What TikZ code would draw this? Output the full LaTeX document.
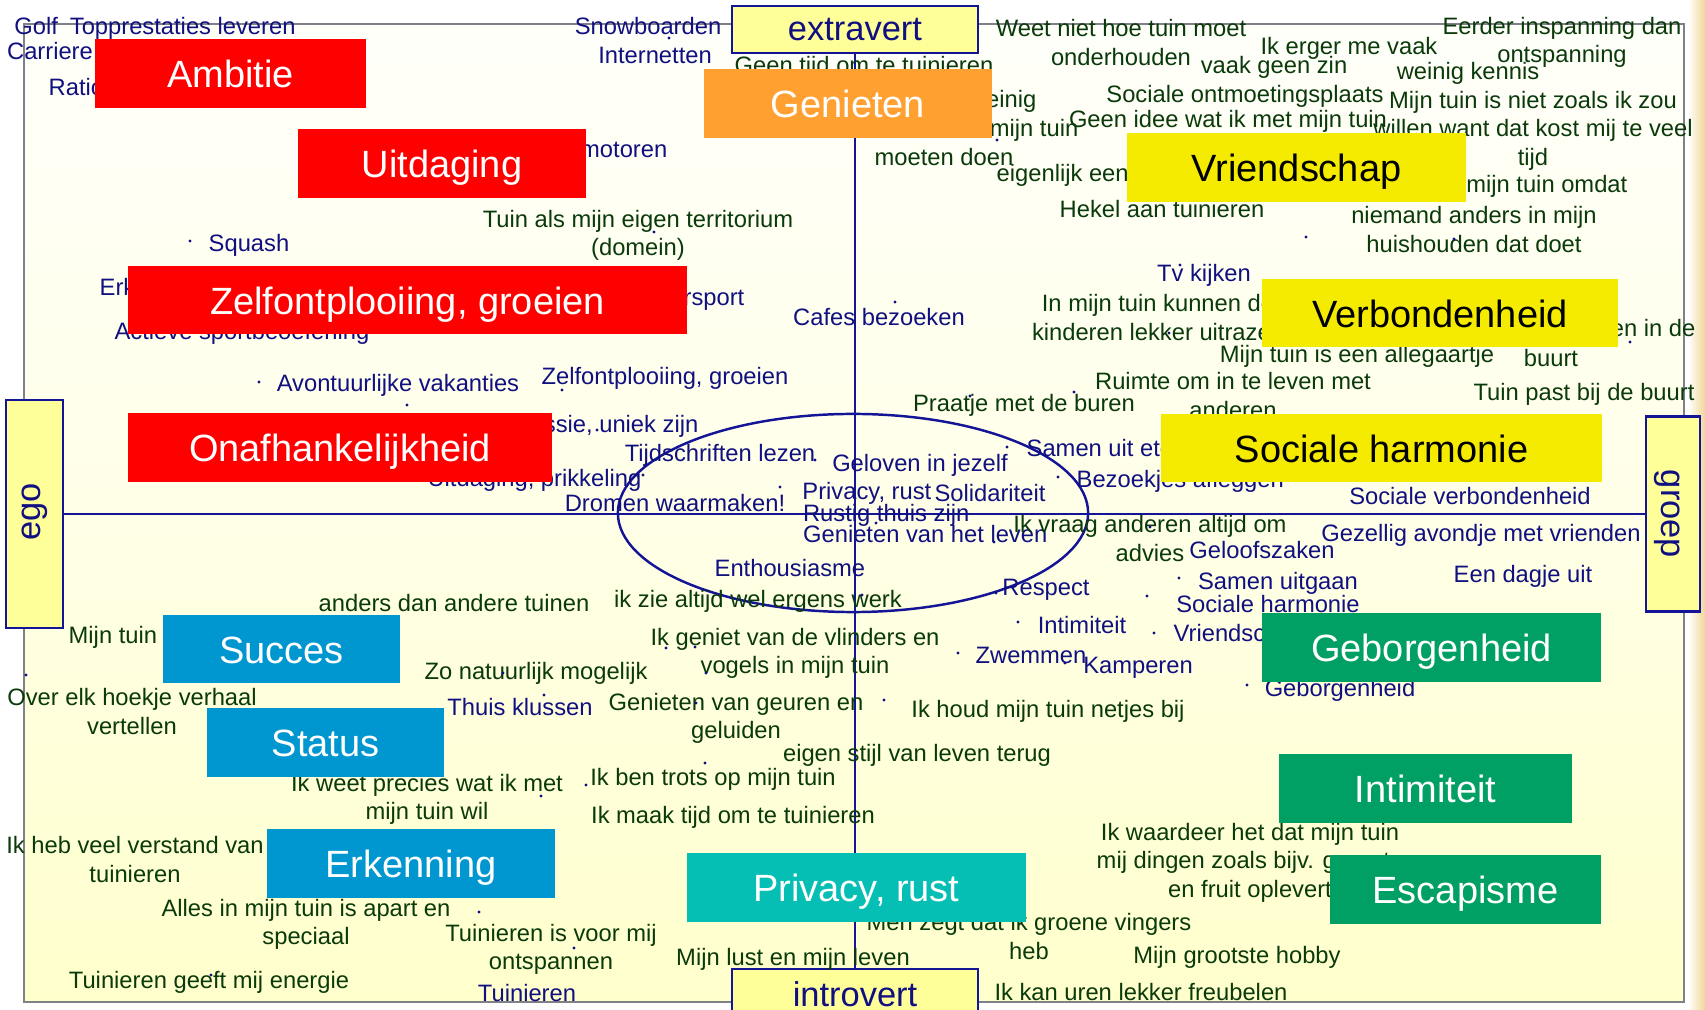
\documentclass[tikz,border=0pt]{standalone}
\usepackage{fontspec}
\setmainfont{Liberation Sans}
\definecolor{navytext}{RGB}{16,16,128}
\definecolor{navyline}{RGB}{20,20,150}
\definecolor{greentext}{RGB}{10,58,10}
\definecolor{redbox}{RGB}{255,0,0}
\definecolor{orangebox}{RGB}{255,160,48}
\definecolor{yellowbox}{RGB}{245,235,0}
\definecolor{greenbox}{RGB}{0,160,100}
\definecolor{bluebox}{RGB}{0,150,208}
\definecolor{tealbox}{RGB}{5,190,180}
\definecolor{axisyellow}{RGB}{255,255,153}
\definecolor{bgtop}{RGB}{255,255,250}
\definecolor{bgbot}{RGB}{255,255,204}
\definecolor{framegray}{RGB}{128,128,136}
\definecolor{glow}{RGB}{240,215,150}
\newcommand\smalltxt{\fontsize{6.75}{8.1}\selectfont}
\newcommand\bigtxt{\fontsize{10.8}{13}\selectfont}
\newcommand\axtxt{\fontsize{9.8}{12}\selectfont}
\tikzset{
  nv/.style={inner sep=0pt, text=navytext, font=\smalltxt, text height=4.85pt, text depth=0pt},
  gr1/.style={inner sep=0pt, text=greentext, font=\smalltxt, text height=4.85pt, text depth=0pt},
  gr/.style={inner sep=0pt, text=greentext, font=\smalltxt, align=center, yshift=-0.025cm},
  cbox/.style={inner sep=0pt, font=\bigtxt, text=white, text height=8.1pt, text depth=0pt},
  axbox/.style={draw=navyline, fill=axisyellow, line width=0.8pt, inner sep=0pt},
  axlbl/.style={inner sep=0pt, font=\axtxt, text=navytext},
  axline/.style={draw=navyline, line width=0.7pt},
  pt/.style={fill=navytext}
}
\begin{document}
\begin{tikzpicture}[x=0.01cm,y=-0.01cm]
\useasboundingbox (0,0) rectangle (1705,1010);
\fill[white] (0,0) rectangle (1705,1010);
\shade[left color=white, right color=glow] (1688,0) rectangle (1705,1010);
% background and frame
\shade[top color=bgtop, bottom color=bgbot, middle color=bgbot!40!bgtop] (24,24) rectangle (1684,1002);
\draw[framegray, line width=0.8pt] (24,24) rectangle (1684,1002);

% axis boxes
\node[axbox, minimum width=2.46cm, minimum height=0.47cm] (extravert) at (855,29.5) {};
\node[axlbl] (extravertlbl) at (855,30) {extravert};
\node[axbox, minimum width=2.46cm, minimum height=0.47cm] (introvert) at (855,992.5) {};
\node[axlbl] (introvertlbl) at (855,994) {introvert};
\node[axbox, minimum width=0.57cm, minimum height=2.28cm] (ego) at (34.5,514) {};
\node[axlbl, rotate=90] (egolbl) at (35,512) {ego};
\node[axbox, minimum width=0.54cm, minimum height=1.95cm] (groep) at (1673,514) {};
\node[axlbl, rotate=-90] (groeplbl) at (1667,514) {groep};

% axes and ellipse
\draw[axline] (extravert.south) -- (introvert.north);
\draw[axline] (ego.east) -- (groep.west);
\draw[axline] (853,513) ellipse [x radius=2.35cm, y radius=0.99cm];

% navy texts
\node[nv] (golf) at (155,26) {Golf\enspace Topprestaties leveren};
\node[nv] (carriere) at (50,51) {Carriere};
\node[nv, anchor=west] (ratio) at (48,87) {Rationeel};
\node[nv] (squash) at (249,243) {Squash};
\node[nv, anchor=west] (erk) at (99,287) {Erkenning};
\node[nv] (actieve) at (242,331) {Actieve sportbeoefening};
\node[nv] (avont) at (398,383) {Avontuurlijke vakanties};
\node[nv] (zelf2) at (665,376) {Zelfontplooiing, groeien};
\node[nv, anchor=east] (expressie) at (699,424) {Expressie, uniek zijn};
\node[nv, anchor=east] (uitdpr) at (642,478) {Uitdaging, prikkeling};
\node[nv] (tijdschr) at (720,453) {Tijdschriften lezen};
\node[nv] (dromen) at (675,503) {Dromen waarmaken!};
\node[nv] (geloven) at (920,463) {Geloven in jezelf};
\node[nv, anchor=east] (privacy2) at (932,491) {Privacy, rust};
\node[nv] (solid) at (990,493) {Solidariteit};
\node[nv, anchor=east] (rustig) at (970,513) {Rustig thuis zijn};
\node[nv, anchor=east] (genleven) at (1048,534) {Genieten van het leven};
\node[nv, anchor=west] (enthous) at (714,568) {Enthousiasme};
\node[nv] (zwemmen) at (1031,655) {Zwemmen};
\node[nv] (kamperen) at (1138,665) {Kamperen};
\node[nv] (intim2) at (1082,625) {Intimiteit};
\node[nv, anchor=west] (vriend2) at (1173,633) {Vriendschap};
\node[nv] (respect) at (1046,587) {Respect};
\node[nv] (samenuit) at (1278,581) {Samen uitgaan};
\node[nv] (socharm2) at (1268,604) {Sociale harmonie};
\node[nv] (geloofsz) at (1262,550) {Geloofszaken};
\node[nv, anchor=west] (sameneten) at (1026,448) {Samen uit eten};
\node[nv, anchor=west] (bezoek) at (1076,479) {Bezoekjes afleggen};
\node[nv] (tv) at (1204,273) {Tv kijken};
\node[nv] (cafes) at (879,317) {Cafes bezoeken};
\node[nv, anchor=east] (sport) at (745,297) {Wintersport};
\node[nv, anchor=east] (motoren) at (668,149) {Snelle motoren};
\node[nv] (snow) at (648,26) {Snowboarden};
\node[nv] (internet) at (655,55) {Internetten};
\node[nv] (socverb) at (1470,496) {Sociale verbondenheid};
\node[nv] (gezellig) at (1481,533) {Gezellig avondje met vrienden};
\node[nv] (dagje) at (1523,574) {Een dagje uit};
\node[nv] (geborg2) at (1340,688) {Geborgenheid};
\node[nv] (thuisklus) at (520,707) {Thuis klussen};
\node[nv] (tuinieren2) at (527,993) {Tuinieren};

% green texts
\node[gr] (territ) at (638,233) {Tuin als mijn eigen territorium\\(domein)};
\node[gr1] (geentijd) at (864,65) {Geen tijd om te tuinieren};
\node[gr1, anchor=east] (weinig) at (1037,99) {Ik heb weinig};
\node[gr1, anchor=east] (mijntuin1) at (1079,128) {het liefst in mijn tuin};
\node[gr1] (moeten) at (944,157) {moeten doen};
\node[gr] (weetniet) at (1121,40) {Weet niet hoe tuin moet\\onderhouden};
\node[gr1] (erger) at (1349,46) {Ik erger me vaak};
\node[gr1] (vaakgeen) at (1274,65) {vaak geen zin};
\node[gr1] (sociontm) at (1245,94) {Sociale ontmoetingsplaats};
\node[gr1] (geenidee) at (1228,119) {Geen idee wat ik met mijn tuin};
\node[gr1, anchor=west] (eigenlijk) at (996,173) {eigenlijk een};
\node[gr1] (hekel) at (1162,209) {Hekel aan tuinieren};
\node[gr] (eerder) at (1562,40) {Eerder inspanning dan\\ontspanning};
\node[gr1] (kennis) at (1468,71) {weinig kennis};
\node[gr] (nietzoals) at (1533,128) {Mijn tuin is niet zoals ik zou\\willen want dat kost mij te veel\\tijd};
\node[gr1, anchor=east] (omdat) at (1628,184) {Ik verzorg mijn tuin omdat};
\node[gr] (niemand) at (1474,227) {niemand anders in mijn\\huishouden dat doet};
\node[gr] (kinderen) at (1158,315) {In mijn tuin kunnen de\\kinderen lekker uitrazen};
\node[gr1, anchor=east] (passen) at (1696,328) {Ik wil passen in de};
\node[gr1] (buurt) at (1551,358) {buurt};
\node[gr1] (pastbuurt) at (1584,392) {Tuin past bij de buurt};
\node[gr1] (allegaar) at (1357,354) {Mijn tuin is een allegaartje};
\node[gr] (ruimte) at (1233,393) {Ruimte om in te leven met\\anderen};
\node[gr1] (praatje) at (1024,403) {Praatje met de buren};
\node[gr] (vraag) at (1150,536) {Ik vraag anderen altijd om\\advies};
\node[gr1] (ikzie) at (758,599) {ik zie altijd wel ergens werk};
\node[gr1] (anders) at (454,603) {anders dan andere tuinen};
\node[gr1, anchor=west] (mijntuin2) at (68,635) {Mijn tuin};
\node[gr1] (natuurlijk) at (536,671) {Zo natuurlijk mogelijk};
\node[gr] (hoekje) at (132,709) {Over elk hoekje verhaal\\vertellen};
\node[gr] (geuren) at (736,716) {Genieten van geuren en\\geluiden};
\node[gr] (vlinders) at (795,651) {Ik geniet van de vlinders en\\vogels in mijn tuin};
\node[gr] (weet) at (427,797) {Ik weet precies wat ik met\\mijn tuin wil};
\node[gr] (verstand) at (135,857) {Ik heb veel verstand van\\tuinieren};
\node[gr] (alles) at (306,922) {Alles in mijn tuin is apart en\\speciaal};
\node[gr1] (energie) at (209,980) {Tuinieren geeft mij energie};
\node[gr] (ontsp) at (551,947) {Tuinieren is voor mij\\ontspannen};
\node[gr1] (trots) at (713,777) {Ik ben trots op mijn tuin};
\node[gr1] (maaktijd) at (733,815) {Ik maak tijd om te tuinieren};
\node[gr1] (stijl) at (917,753) {eigen stijl van leven terug};
\node[gr1] (lust) at (793,957) {Mijn lust en mijn leven};
\node[gr] (vingers) at (1029,934) {Men zegt dat ik groene vingers\\heb};
\node[gr1] (hobby) at (1237,955) {Mijn grootste hobby};
\node[gr1] (freubel) at (1141,992) {Ik kan uren lekker freubelen};
\node[gr] (waardeer) at (1250,860) {Ik waardeer het dat mijn tuin\\mij dingen zoals bijv. groente\\en fruit oplevert};
\node[gr1] (netjes) at (1048,709) {Ik houd mijn tuin netjes bij};

% dots
\foreach \p in {(669,38),(654,232),(190,241),(562,390),(597,430),(407,405),(259,382),
  (643,475),(815,460),(710,507),(780,487),(876,523),(994,542),(862,595),(503,673),
  (544,695),(696,703),(666,648),(695,647),(706,673),(541,796),(586,785),(705,763),
  (479,912),(574,948),(211,975),(26,675),(958,653),(1065,663),(1018,622),(1154,633),
  (996,593),(1147,596),(1179,578),(1007,447),(1058,477),(970,396),(1074,392),(1150,527),
  (1180,265),(895,302),(1169,333),(1306,237),(1454,239),(1630,342),(1247,685),(884,700),(997,140)}
  \fill[pt] \p circle[radius=0.016cm];

% coloured value boxes
\node[cbox, fill=redbox, minimum width=2.71cm, minimum height=0.69cm] (ambitie) at (230.5,73.5) {Ambitie};
\node[cbox, fill=redbox, minimum width=2.88cm, minimum height=0.69cm] (uitdaging) at (442,163.5) {Uitdaging};
\node[cbox, fill=redbox, minimum width=5.59cm, minimum height=0.68cm] (zelf) at (407.5,300) {Zelfontplooiing, groeien};
\node[cbox, fill=redbox, minimum width=4.24cm, minimum height=0.69cm] (onafh) at (340,447.5) {Onafhankelijkheid};
\node[cbox, fill=orangebox, minimum width=2.88cm, minimum height=0.69cm] (genieten) at (848,103.5) {Genieten};
\node[cbox, fill=yellowbox, text=black, minimum width=3.39cm, minimum height=0.69cm] (vriendschap) at (1296.5,167.5) {Vriendschap};
\node[cbox, fill=yellowbox, text=black, minimum width=3.56cm, minimum height=0.68cm] (verbonden) at (1440,313) {Verbondenheid};
\node[cbox, fill=yellowbox, text=black, minimum width=4.41cm, minimum height=0.68cm] (socharm) at (1381.5,448) {Sociale harmonie};
\node[cbox, fill=greenbox, minimum width=3.39cm, minimum height=0.69cm] (geborgen) at (1431.5,647.5) {Geborgenheid};
\node[cbox, fill=greenbox, minimum width=2.93cm, minimum height=0.69cm] (intimiteit) at (1425.5,788.5) {Intimiteit};
\node[cbox, fill=greenbox, minimum width=2.71cm, minimum height=0.69cm] (escapisme) at (1465.5,889.5) {Escapisme};
\node[cbox, fill=bluebox, minimum width=2.37cm, minimum height=0.68cm] (succes) at (281.5,649) {Succes};
\node[cbox, fill=bluebox, minimum width=2.37cm, minimum height=0.69cm] (status) at (325.5,742.5) {Status};
\node[cbox, fill=bluebox, minimum width=2.88cm, minimum height=0.69cm] (erkenning) at (411,863.5) {Erkenning};
\node[cbox, fill=tealbox, minimum width=3.39cm, minimum height=0.69cm] (privacy) at (856.5,887.5) {Privacy, rust};
\end{tikzpicture}
\end{document}
